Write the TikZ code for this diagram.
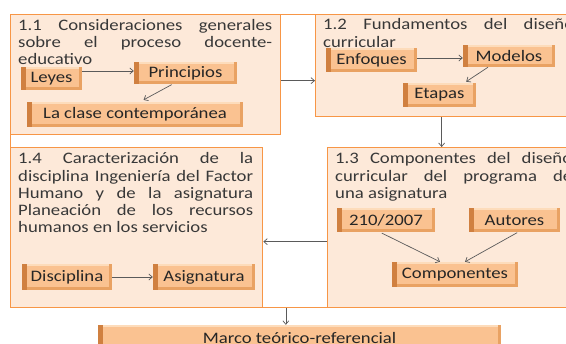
\documentclass[tikz,border=0pt]{standalone}
\usepackage{fontspec}
\setmainfont{Carlito}[FakeStretch=1.17]
\usetikzlibrary{calc,arrows.meta}
\definecolor{frameor}{HTML}{F79646}
\definecolor{boxfill}{HTML}{FDE9D9}
\definecolor{nodefill}{HTML}{FAC291}
\definecolor{nodedark}{HTML}{D08040}
\definecolor{nodemid}{HTML}{E9A263}
\definecolor{nodelight}{HTML}{FDDCBB}
\definecolor{txtgray}{HTML}{383838}
\definecolor{arrgray}{HTML}{5A5A5A}
\tikzset{
  bigbox/.style={draw=frameor, line width=1.3pt, fill=boxfill, anchor=north west, inner sep=0pt},
  titletext/.style={anchor=base west, inner sep=0pt, align=justify, text=txtgray,
    font=\fontsize{16}{17.2}\selectfont},
  item/.style={fill=nodefill, inner sep=0pt, text=black!85,
    font=\fontsize{16}{17}\selectfont,
    path picture={
      \fill[nodemid] (path picture bounding box.south west) rectangle ([yshift=2.5pt]path picture bounding box.south east);
      \fill[nodelight] ([yshift=-2.5pt]path picture bounding box.north west) rectangle (path picture bounding box.north east);
      \fill[nodemid] ([xshift=-3pt]path picture bounding box.south east) rectangle (path picture bounding box.north east);
      \fill[nodedark] (path picture bounding box.south west) rectangle ([xshift=4.5pt]path picture bounding box.north west);
    }},
  conn/.style={draw=arrgray, line width=0.7pt, -{Straight Barb[length=3.5pt,width=6pt]}}
}
\begin{document}
\begin{tikzpicture}[x=1pt,y=-1pt]
\useasboundingbox (0,0) rectangle (566,344);
\fill[white] (0,0) rectangle (566,344);
\clip (0,0) rectangle (566,344);

% outer frame and four boxes
\node[bigbox, fill=white, minimum width=575, minimum height=293] (frame) at (10,14) {};
\node[bigbox, minimum width=270, minimum height=120] (b11) at (10,14) {};
\node[bigbox, minimum width=270, minimum height=102] (b12) at (315,14) {};
\node[bigbox, minimum width=252, minimum height=160] (b14) at (10,147) {};
\node[bigbox, minimum width=258, minimum height=160] (b13) at (327,147) {};

% titles
\node[titletext, text width=254pt] (t11) at (18,30.5)
  {1.1 Consideraciones generales\linebreak sobre el proceso docente-\linebreak educativo};
\node[titletext, text width=251pt] (t12) at (323,30)
  {1.2 Fundamentos del diseño\linebreak curricular};
\node[titletext, text width=237pt] (t13) at (335,164)
  {1.3 Componentes del diseño\linebreak curricular del programa de\linebreak una asignatura};
\node[titletext, text width=235pt] (t14) at (18,164)
  {1.4 Caracterización de la\linebreak disciplina Ingeniería del Factor\linebreak Humano y de la asignatura\linebreak Planeación de los recursos\linebreak humanos en los servicios};

% items
\node[item, minimum width=61, minimum height=23] (leyes) at (51.5,78.5) {Leyes};
\node[item, minimum width=103, minimum height=22] (prin) at (185.5,73) {Principios};
\node[item, minimum width=216, minimum height=25] (clase) at (135,114.5) {La clase contemporánea};
\node[item, minimum width=91, minimum height=24] (enf) at (371.5,60) {Enfoques};
\node[item, minimum width=92, minimum height=22] (mod) at (509,56) {Modelos};
\node[item, minimum width=73, minimum height=24] (eta) at (439.5,95) {Etapas};
\node[item, minimum width=98, minimum height=24] (n210) at (386,220) {210/2007};
\node[item, minimum width=91, minimum height=24] (aut) at (514.5,220) {Autores};
\node[item, minimum width=126, minimum height=25] (comp) at (455,274.5) {Componentes};
\node[item, minimum width=90, minimum height=26] (disc) at (67,277) {Disciplina};
\node[item, minimum width=102, minimum height=26] (asig) at (204,277) {Asignatura};
\node[item, minimum width=403, minimum height=26] (marco) at (299.5,338) {Marco teórico-referencial};

% connectors between boxes
\coordinate (a1) at ([yshift=-6pt]b11.east);
\draw[conn] (a1) -- (a1 -| b12.west);
\coordinate (a2) at ([xshift=-9pt]b12.south);
\draw[conn] (a2) -- (a2 |- b13.north);
\coordinate (a3) at ([yshift=-14pt]b13.west);
\draw[conn] (a3) -- (a3 -| b14.east);
\path (b14.south east) -- (b13.south west) coordinate[pos=0.354] (fm);
\draw[conn] (fm) -- (fm |- marco.north);

% inner connectors
\coordinate (c1) at ([yshift=7.5pt]leyes.east);
\draw[conn] (c1) -- (c1 -| prin.west);
\draw[conn, shorten >=4pt, shorten <=1pt] ([xshift=-13pt]prin.south) -- ([xshift=5pt]clase.north);
\coordinate (c2) at ([yshift=2pt]enf.east);
\draw[conn] (c2) -- (c2 -| mod.west);
\draw[conn, shorten >=2pt] ([xshift=-21pt]mod.south) -- ([xshift=25pt]eta.north);
\draw[conn, shorten <=2pt] ([xshift=-6pt]n210.south) -- ([xshift=-15pt]comp.north);
\draw[conn, shorten <=1pt] ([xshift=3.5pt]aut.south) -- ([xshift=10pt]comp.north);
\draw[conn] (disc.east) -- (asig.west);
\end{tikzpicture}
\end{document}
